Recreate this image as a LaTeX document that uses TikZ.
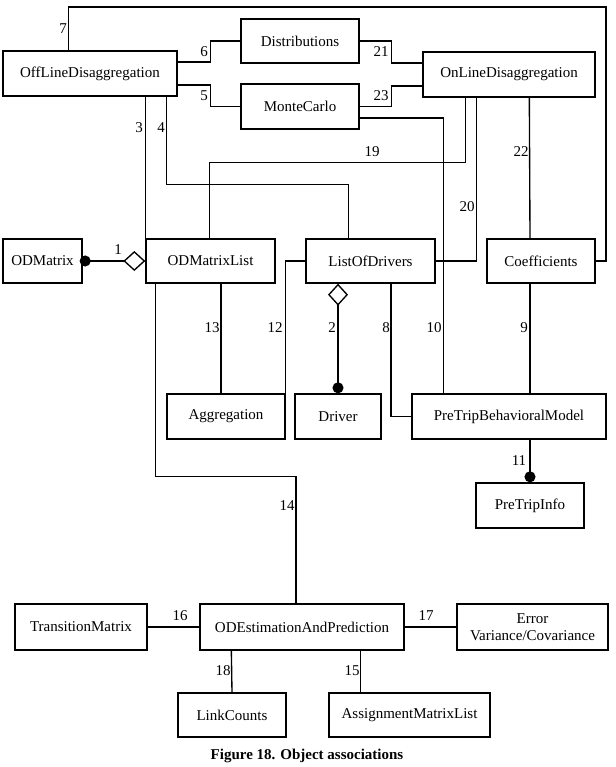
\documentclass[tikz,border=0pt]{standalone}
\usepackage{fontspec}
\setmainfont{Liberation Serif}
\usetikzlibrary{arrows.meta}
\tikzset{
  box/.style={draw, line width=1.35pt, inner sep=0pt, minimum height=45pt, font=\fontsize{15}{16}\selectfont},
  conn/.style={line width=1.35pt},
  lbl/.style={inner sep=0pt, font=\fontsize{15}{16}\selectfont},
  dot/.tip={Circle[length=11pt,width=11pt]},
  dia/.tip={Diamond[open,length=22pt,width=20pt,line width=1.35pt]}
}
\begin{document}
\begin{tikzpicture}[x=1pt,y=-1pt]
\useasboundingbox (0,0) rectangle (615,767);
% boxes
\node[box, minimum width=174pt] (off) at (90,73.5) {OffLineDisaggregation};
\node[box, minimum width=118pt, minimum height=44pt] (dist) at (300,41) {Distributions};
\node[box, minimum width=118pt] (monte) at (300,106.5) {MonteCarlo};
\node[box, minimum width=172pt] (on) at (509,74.5) {OnLineDisaggregation};
\node[box, minimum width=79pt, minimum height=44pt] (odm) at (42.5,261) {ODMatrix};
\node[box, minimum width=129pt, minimum height=44pt] (odml) at (210.5,261) {ODMatrixList};
\node[box, minimum width=129pt, minimum height=44pt] (lod) at (370.5,261) {ListOfDrivers};
\node[box, minimum width=108pt, minimum height=44pt] (coef) at (541,261) {Coefficients};
\node[box, minimum width=118pt] (agg) at (226,416.5) {Aggregation};
\node[box, minimum width=86pt] (drv) at (338,416.5) {Driver};
\node[box, minimum width=194pt] (ptbm) at (509,416.5) {PreTripBehavioralModel};
\node[box, minimum width=108pt] (pti) at (530,505.5) {PreTripInfo};
\node[box, minimum width=132pt, minimum height=46pt] (tm) at (81,627) {TransitionMatrix};
\node[box, minimum width=204pt, minimum height=46pt] (ode) at (302,627) {ODEstimationAndPrediction};
\node[box, minimum width=151pt, minimum height=46pt, align=center, font=\fontsize{15}{17}\selectfont] (err) at (532.5,627) {Error\\Variance/Covariance};
\node[box, minimum width=108pt, minimum height=44pt] (lc) at (232,715) {LinkCounts};
\node[box, minimum width=161pt, minimum height=44pt] (aml) at (409.5,715) {AssignmentMatrixList};
% bend points
\coordinate (b7) at (606,7);
% connectors
\draw[conn] ([xshift=66pt]off.north west) |- (b7) |- (coef.east);
\draw[conn] ([yshift=11.5pt]off.east) -- ++(33,0) |- (dist.west);
\draw[conn] ([yshift=-11.5pt]off.east) -- ++(33,0) |- (monte.west);
\draw[conn] (dist.east) -- ++(32,0) |- ([yshift=11.5pt]on.west);
\draw[conn] (monte.east) -- ++(32,0) |- ([yshift=-11.5pt]on.west);
\draw[conn] ([yshift=-11.5pt]monte.east) -| ([xshift=32pt]ptbm.north west);
\draw[conn] ([xshift=143pt]off.south west) -- (odml.north west);
\draw[conn] ([xshift=164pt]off.south west) -- ++(0,88) -| ([xshift=43pt]lod.north west);
\draw[conn] ([xshift=43pt]on.south west) -- ++(0,65) -| ([xshift=64pt]odml.north west);
\draw[conn] ([xshift=54pt]on.south west) |- (lod.east);
\draw[conn] ([xshift=107pt]on.south west) -- ([xshift=-11pt]coef.north);
\draw[conn] ([xshift=-11pt]coef.south) -- ([xshift=21pt]ptbm.north);
\draw[conn, -{dot}] ([xshift=21pt]ptbm.south) -- (pti.north);
\draw[conn, {dot}-{dia}, shorten <=-3pt] (odm.east) -- (odml.west);
\draw[conn, {dia}-{dot}] ([xshift=-32.5pt]lod.south) -- (drv.north);
\draw[conn] ([xshift=20.5pt]lod.south) |- (ptbm.west);
\draw[conn] (lod.west) -| (agg.north east);
\draw[conn] ([xshift=10.5pt]odml.south) -- ([xshift=-5pt]agg.north);
\draw[conn] ([xshift=10pt]odml.south west) -- ++(0,193) -| ([xshift=-6pt]ode.north);
\draw[conn] (tm.east) -- (ode.west);
\draw[conn] (ode.east) -- (err.west);
\draw[conn] ([xshift=32pt]ode.south west) -- (lc.north);
\draw[conn] ([xshift=161pt]ode.south west) -- ([xshift=32pt]aml.north west);
% labels
\node[lbl] (l7) at (63,29) {7};
\node[lbl] (l6) at (204,52) {6};
\node[lbl] (l5) at (204,96) {5};
\node[lbl] (l3) at (139,128) {3};
\node[lbl] (l4) at (161,128) {4};
\node[lbl] (l21) at (381,52) {21};
\node[lbl] (l23) at (381,96) {23};
\node[lbl] (l19) at (372,152) {19};
\node[lbl] (l22) at (521,152) {22};
\node[lbl] (l20) at (467,207) {20};
\node[lbl] (l1) at (118,250) {1};
\node[lbl] (l13) at (212,328) {13};
\node[lbl] (l12) at (275,328) {12};
\node[lbl] (l2) at (332,328) {2};
\node[lbl] (l8) at (386,328) {8};
\node[lbl] (l10) at (434,328) {10};
\node[lbl] (l9) at (524,328) {9};
\node[lbl] (l11) at (519,461) {11};
\node[lbl] (l14) at (287,506) {14};
\node[lbl] (l16) at (180,616) {16};
\node[lbl] (l17) at (426,616) {17};
\node[lbl] (l18) at (223,671) {18};
\node[lbl] (l15) at (352,671) {15};
\node[lbl, font=\fontsize{15}{16}\selectfont\bfseries] (cap) at (307,756) {Figure 18. Object associations};
\end{tikzpicture}
\end{document}
